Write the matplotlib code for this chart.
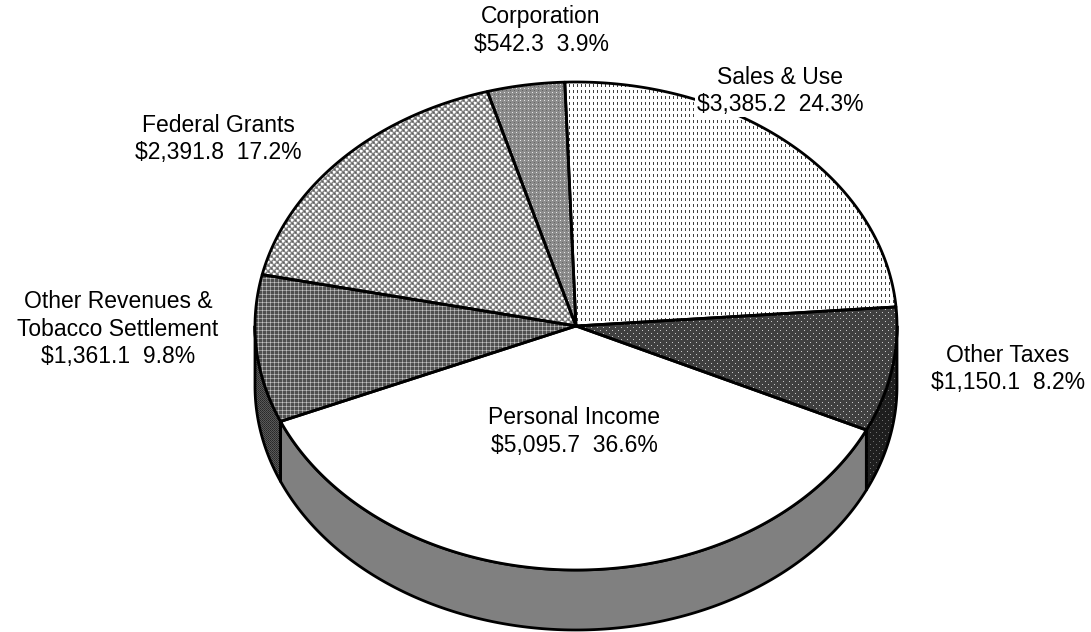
import numpy as np
import matplotlib
matplotlib.use('Agg')
import matplotlib.pyplot as plt
from matplotlib.patches import Polygon

# ---- data ----
categories = ['Sales & Use', 'Other Taxes', 'Personal Income',
              'Other Revenues &\nTobacco Settlement', 'Federal Grants', 'Corporation']
amounts = [3385.2, 1150.1, 5095.7, 1361.1, 2391.8, 542.3]
amount_labels = ['$3,385.2', '$1,150.1', '$5,095.7', '$1,361.1', '$2,391.8', '$542.3']
percent_labels = ['24.3%', '8.2%', '36.6%', '9.8%', '17.2%', '3.9%']

# ---- layout / style ----
W, H = 1091, 632
cx, cy = 576, 326
rx, ry = 321, 244
depth = 60
start_angle = 92.0

label_pos = [(780, 77), (1008, 355), (574, 418), (118, 302), (218, 125), (541, 17)]
line_step = 27.5

tiles_top = [
    # Sales & Use: white with short dark vertical dashes
    [[255, 64, 255, 255],
     [255, 64, 255, 255],
     [255, 64, 255, 255],
     [255, 255, 255, 255],
     [255, 255, 255, 255],
     [255, 255, 255, 255]],
    # Other Taxes: dark with light dots
    [[200, 64, 64, 64, 64, 64],
     [64, 64, 64, 64, 64, 64],
     [64, 64, 64, 64, 64, 64],
     [64, 64, 64, 200, 64, 64],
     [64, 64, 64, 64, 64, 64],
     [64, 64, 64, 64, 64, 64]],
    # Personal Income: white
    [[255]],
    # Other Revenues: mid-dark grid
    [[80, 80, 150, 80],
     [80, 80, 150, 80],
     [150, 150, 200, 150],
     [80, 80, 150, 80]],
    # Federal Grants: light checker
    [[255, 255, 200, 128, 128, 160],
     [255, 255, 200, 128, 96, 128],
     [200, 200, 128, 160, 128, 128],
     [128, 128, 160, 255, 255, 200],
     [128, 96, 128, 255, 255, 200],
     [160, 128, 128, 200, 200, 128]],
    # Corporation: medium gray with dots
    [[230, 140, 140, 140],
     [140, 140, 140, 140],
     [140, 140, 100, 140],
     [140, 140, 140, 140]],
]
tiles_side = [
    [[200]],
    [[110, 30, 30, 30, 30, 30],
     [30, 30, 30, 30, 30, 30],
     [30, 30, 30, 30, 30, 30],
     [30, 30, 30, 110, 30, 30],
     [30, 30, 30, 30, 30, 30],
     [30, 30, 30, 30, 30, 30]],
    [[128]],
    [[40, 90], [90, 50]],
    [[128]],
    [[100]],
]


def texture(tile):
    t = np.array(tile, dtype=float) / 255.0
    th, tw = t.shape
    img = np.tile(t, (H // th + 2, W // tw + 2))[:H, :W]
    return img


def ell(t_deg, dy=0.0):
    t = np.radians(t_deg)
    return np.column_stack([cx + rx * np.cos(t), cy - ry * np.sin(t) + dy])


fig = plt.figure(figsize=(W / 100, H / 100), dpi=100)
ax = fig.add_axes([0, 0, 1, 1])
ax.set_xlim(0, W)
ax.set_ylim(H, 0)
ax.axis('off')

vals = np.array(amounts)
fracs = vals / vals.sum()
cum = np.concatenate([[0], np.cumsum(fracs)])
a_start = start_angle - cum[:-1] * 360
a_end = start_angle - cum[1:] * 360

lw = 2.0
# side walls
for i in range(len(vals)):
    hi, lo = a_start[i], a_end[i]
    for k in range(-2, 2):
        f_lo, f_hi = -180 + 360 * k, 360 * k
        s_lo, s_hi = max(lo, f_lo), min(hi, f_hi)
        if s_hi - s_lo <= 0.01:
            continue
        ts = np.linspace(s_lo, s_hi, 200)
        pts = np.vstack([ell(ts), ell(ts[::-1], depth)])
        poly = Polygon(pts, closed=True, facecolor='none', edgecolor='black',
                       linewidth=lw, joinstyle='round', zorder=3)
        ax.add_patch(poly)
        im = ax.imshow(texture(tiles_side[i]), cmap='gray', vmin=0, vmax=1,
                       extent=(0, W, H, 0), interpolation='nearest', zorder=2)
        im.set_clip_path(poly)

# top wedges
for i in range(len(vals)):
    ts = np.linspace(a_start[i], a_end[i], 300)
    pts = np.vstack([[cx, cy], ell(ts)])
    poly = Polygon(pts, closed=True, facecolor='none', edgecolor='black',
                   linewidth=lw, joinstyle='round', zorder=5)
    ax.add_patch(poly)
    im = ax.imshow(texture(tiles_top[i]), cmap='gray', vmin=0, vmax=1,
                   extent=(0, W, H, 0), interpolation='nearest', zorder=4)
    im.set_clip_path(poly)

ax.set_xlim(0, W)
ax.set_ylim(H, 0)
ax.set_aspect('auto')

# labels
for i in range(len(vals)):
    x, y = label_pos[i]
    lines = categories[i].split('\n') + [amount_labels[i] + '  ' + percent_labels[i]]
    for j, s in enumerate(lines):
        ax.text(x, y + j * line_step, s, ha='center', va='center',
                fontsize=16.5, family='Liberation Sans', color='black', zorder=10,
                bbox=dict(facecolor='white', edgecolor='none', pad=1.0))

fig.savefig('out.png', dpi=100)
